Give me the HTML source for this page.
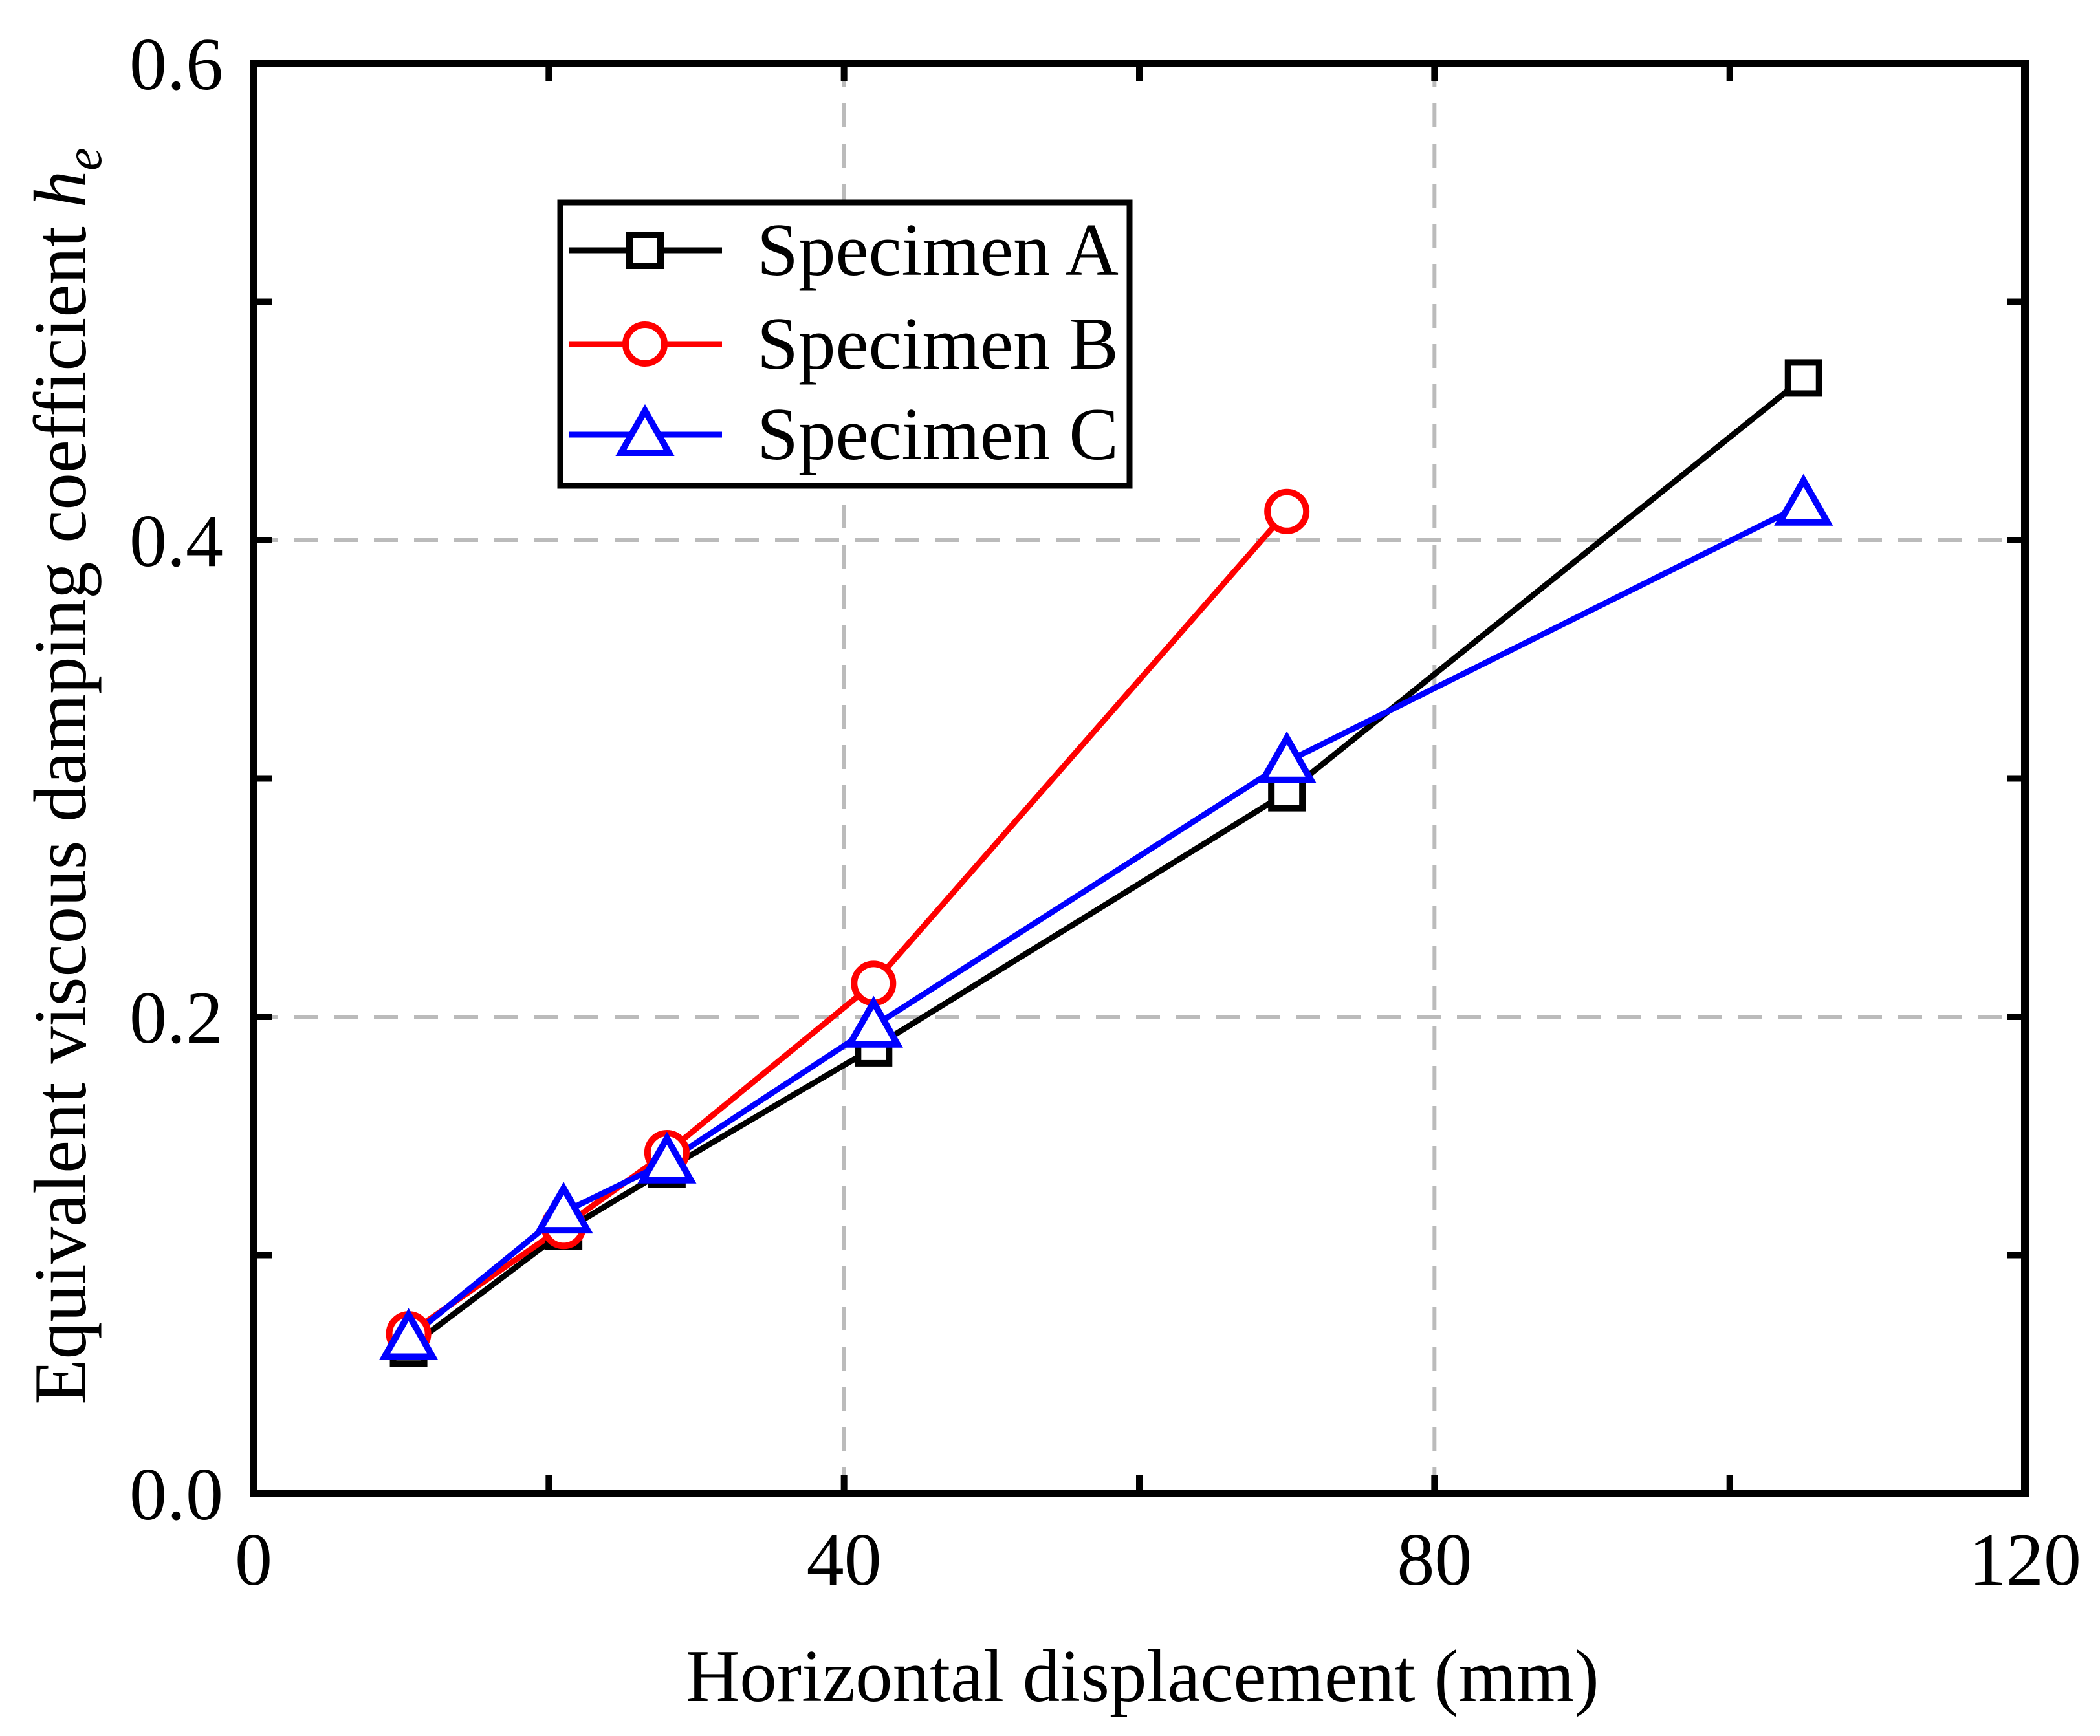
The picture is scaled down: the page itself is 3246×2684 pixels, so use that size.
<!DOCTYPE html>
<html><head><meta charset="utf-8"><style>
html,body{margin:0;padding:0;background:#fff;}
svg{display:block;font-family:"Liberation Serif",serif;}
</style></head><body>
<svg id="chart" width="3246" height="2684" viewBox="0 0 3246 2684" xmlns="http://www.w3.org/2000/svg">
<g id="grid"></g>
<g id="series"></g>
<g id="axes"></g>
<g id="legend"></g>
<text x="1766" y="2630" font-size="115" text-anchor="middle">Horizontal displacement (mm)</text>
<text transform="translate(132,1200) rotate(-90)" font-size="115" text-anchor="middle">Equivalent viscous damping coefficient <tspan font-style="italic">h</tspan><tspan font-style="italic" font-size="80" dy="24">e</tspan></text>
</svg>
<script>
const xTicks = [0, 40, 80, 120];
const xMinor = [20, 60, 100];
const yTicks = [0.0, 0.2, 0.4, 0.6];
const yMinor = [0.1, 0.3, 0.5];
const yTickLabels = ["0.0", "0.2", "0.4", "0.6"];
const seriesNames = ["Specimen A", "Specimen B", "Specimen C"];
const xA = [10.5, 21, 28, 42, 70, 105];
const yA = [0.061, 0.110, 0.136, 0.187, 0.294, 0.468];
const xB = [10.5, 21, 28, 42, 70];
const yB = [0.067, 0.112, 0.143, 0.214, 0.412];
const xC = [10.5, 21, 28, 42, 70, 105];
const yC = [0.065, 0.118, 0.139, 0.196, 0.307, 0.415];

const NS = "http://www.w3.org/2000/svg";
const L = 392, R = 3130, T = 98, B = 2309;
const sx = v => L + (v / 120) * (R - L);
const sy = v => B - (v / 0.6) * (B - T);
function mk(tag, attrs, parent) {
  const e = document.createElementNS(NS, tag);
  for (const k in attrs) e.setAttribute(k, attrs[k]);
  parent.appendChild(e);
  return e;
}
const grid = document.getElementById('grid');
[40, 80].forEach(v => {
  const g = mk('line', {x1: sx(v), x2: sx(v), y1: T, y2: B, stroke: '#bbb', 'stroke-width': 6, 'stroke-dasharray': '37 25'}, grid);
  
  
});
[0.2, 0.4].forEach(v => {
  const g = mk('line', {x1: L, x2: R, y1: sy(v), y2: sy(v), stroke: '#bbb', 'stroke-width': 6, 'stroke-dasharray': '37 25'}, grid);
  
  
});

const seriesG = document.getElementById('series');
function marker(kind, x, y, color, parent) {
  let m;
  if (kind === 'square') m = mk('rect', {x: x - 24, y: y - 24, width: 48, height: 48, fill: '#fff', stroke: color, 'stroke-width': 10}, parent);
  else if (kind === 'circle') m = mk('circle', {cx: x, cy: y, r: 30, fill: '#fff', stroke: color, 'stroke-width': 10}, parent);
  else m = mk('polygon', {points: `${x},${y - 37} ${x - 37},${y + 28} ${x + 37},${y + 28}`, fill: '#fff', stroke: color, 'stroke-width': 10, 'stroke-linejoin': 'miter'}, parent);
  return m;
}
const defs = [
  {xs: xA, ys: yA, color: '#000', kind: 'square', name: 'specimen-a'},
  {xs: xB, ys: yB, color: '#ff0000', kind: 'circle', name: 'specimen-b'},
  {xs: xC, ys: yC, color: '#0000ff', kind: 'triangle', name: 'specimen-c'}
];
defs.forEach(d => {
  const pts = d.xs.map((x, i) => sx(x) + ',' + sy(d.ys[i])).join(' ');
  const pl = mk('polyline', {points: pts, fill: 'none', stroke: d.color, 'stroke-width': 9}, seriesG);
  
  
});
defs.forEach(d => {
  d.xs.forEach((x, i) => {
    const m = marker(d.kind, sx(x), sy(d.ys[i]), d.color, seriesG);
    
    
  });
});

const axes = document.getElementById('axes');
const frame = mk('rect', {x: L, y: T, width: R - L, height: B - T, fill: 'none', stroke: '#000', 'stroke-width': 12}, axes);


const tl = 28;
xTicks.concat(xMinor).forEach(v => {
  const a = mk('line', {x1: sx(v), x2: sx(v), y1: B, y2: B - tl, stroke: '#000', 'stroke-width': 10}, axes);
  
  
  const b = mk('line', {x1: sx(v), x2: sx(v), y1: T, y2: T + tl, stroke: '#000', 'stroke-width': 10}, axes);
  
  
});
yTicks.concat(yMinor).forEach(v => {
  const a = mk('line', {x1: L, x2: L + tl, y1: sy(v), y2: sy(v), stroke: '#000', 'stroke-width': 10}, axes);
  
  
  const b = mk('line', {x1: R, x2: R - tl, y1: sy(v), y2: sy(v), stroke: '#000', 'stroke-width': 10}, axes);
  
  
});
xTicks.forEach(v => {
  const t = mk('text', {x: sx(v), y: 2450, 'font-size': 116, 'text-anchor': 'middle'}, axes);
  t.textContent = String(v);
  
  
});
yTicks.forEach((v, i) => {
  const t = mk('text', {x: 345, y: sy(v) + 40, 'font-size': 116, 'text-anchor': 'end'}, axes);
  t.textContent = yTickLabels[i];
  
  
});

const lg = document.getElementById('legend');
const box = mk('rect', {x: 866, y: 313, width: 880, height: 438, fill: '#fff', stroke: '#000', 'stroke-width': 9}, lg);


const ly = [387, 532, 672];
defs.forEach((d, i) => {
  const ln = mk('line', {x1: 879, x2: 1116, y1: ly[i], y2: ly[i], stroke: d.color, 'stroke-width': 9}, lg);
  
  
  const m = marker(d.kind, 997, ly[i], d.color, lg);
  
  
  const t = mk('text', {x: 1170, y: ly[i] + 38, 'font-size': 115}, lg);
  t.textContent = seriesNames[i];
  
  
});
</script>
</body></html>
